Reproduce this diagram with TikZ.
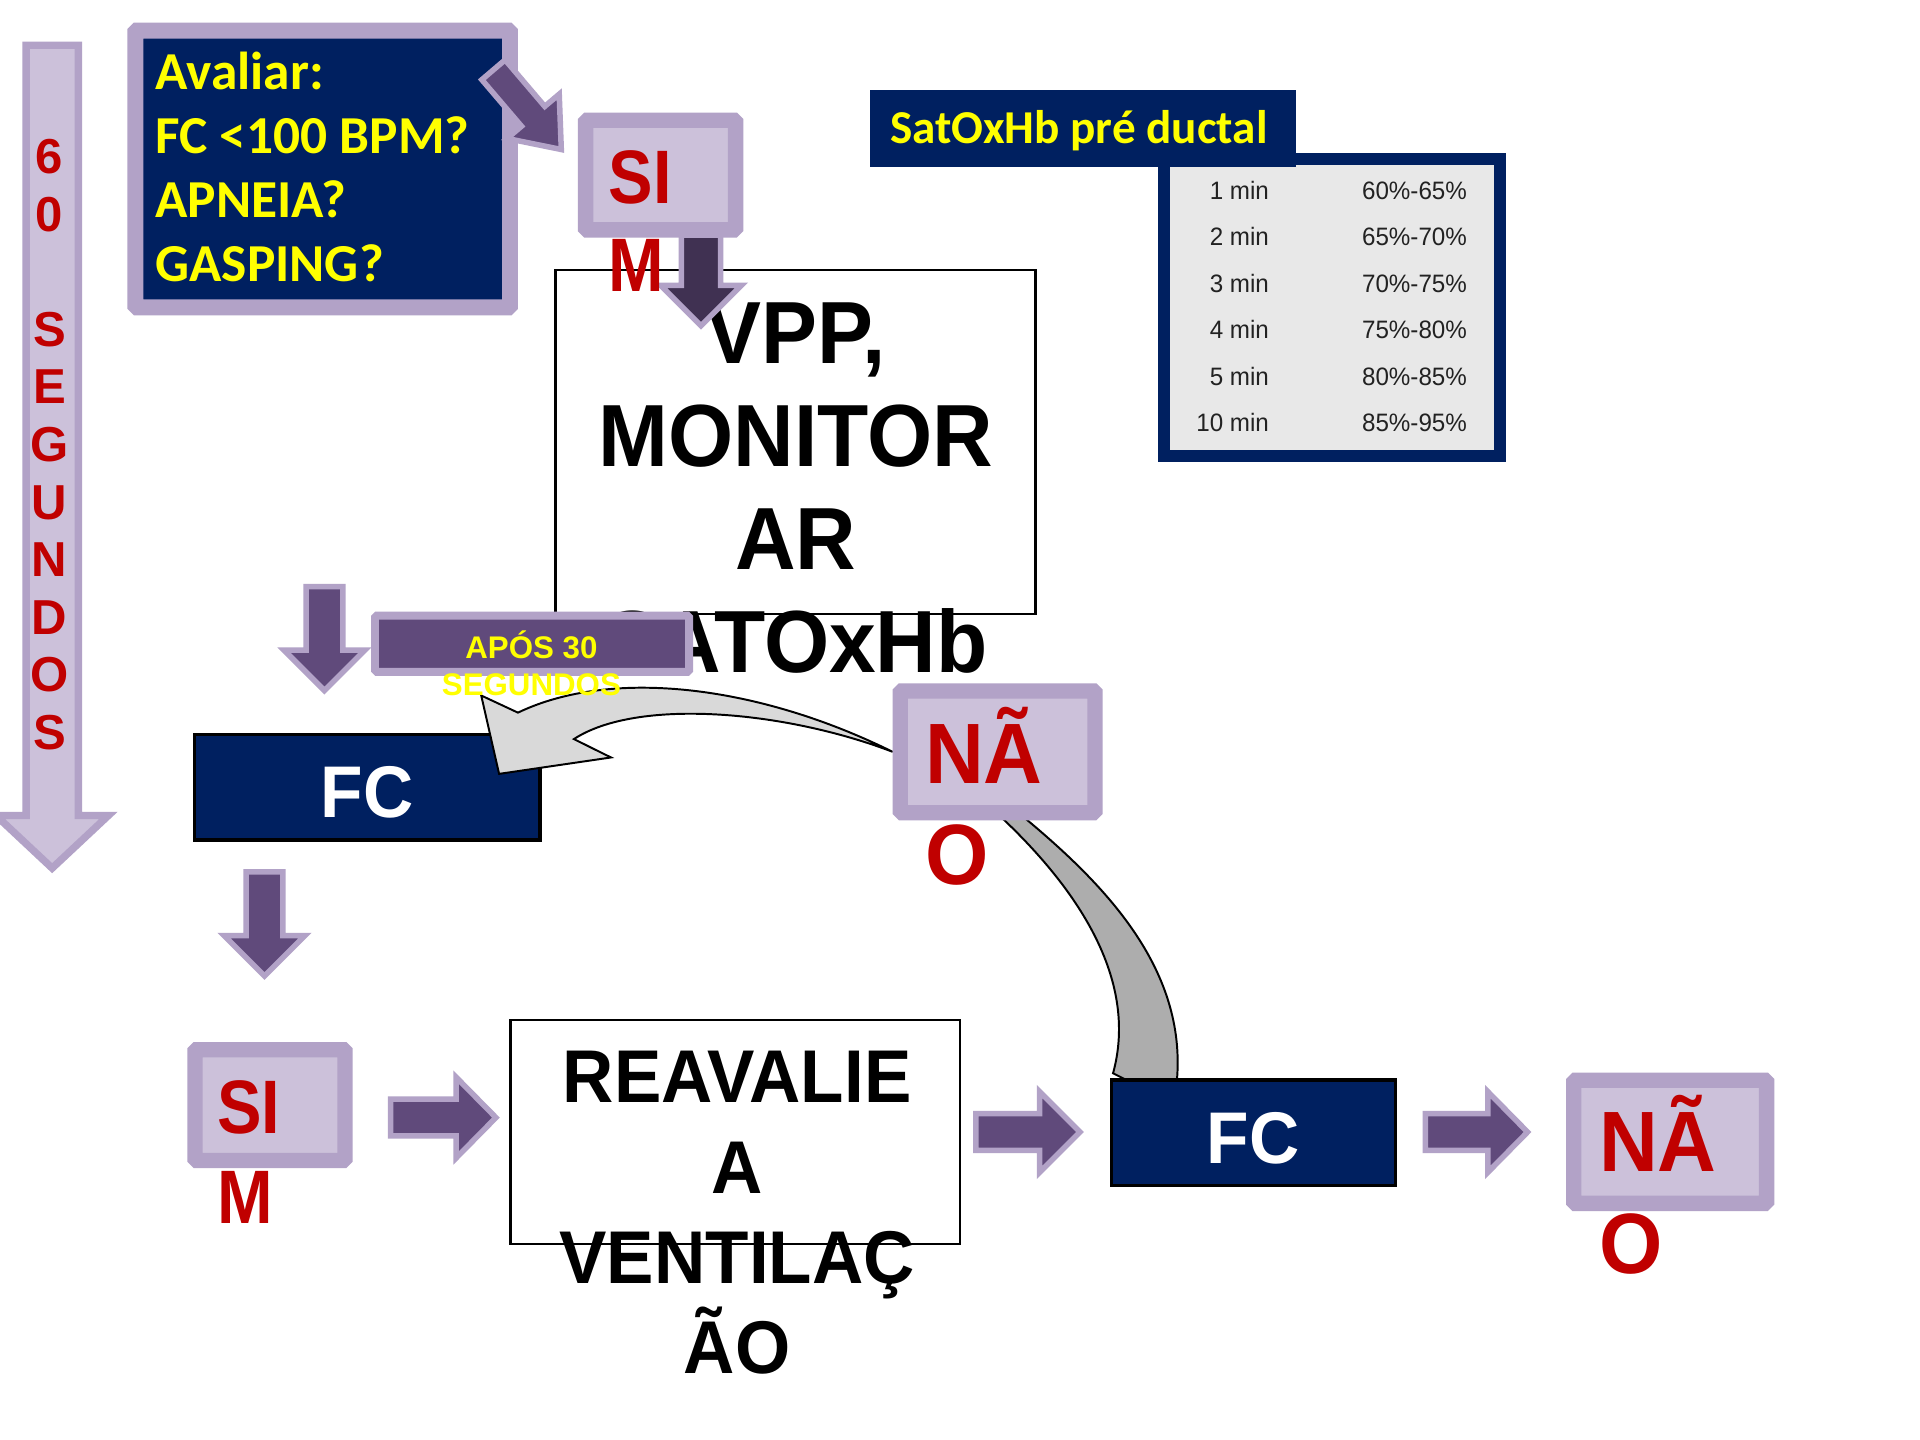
\documentclass[tikz,border=0pt]{standalone}
\usepackage{fontspec}
\setmainfont{Liberation Sans}
\newfontfamily\nbf[FakeStretch=0.95]{Liberation Sans}
\newfontfamily\nbs[FakeStretch=0.88]{Liberation Sans}
\newfontfamily\carl{Carlito}
\newfontfamily\tabf[FakeStretch=0.96]{Liberation Sans}
\newlength\uu \setlength\uu{0.01cm}
\definecolor{cNavy}{HTML}{002060}
\definecolor{cLavD}{HTML}{B2A2C7}
\definecolor{cLavL}{HTML}{CCC1DA}
\definecolor{cPurp}{HTML}{604A7B}
\definecolor{cDPurp}{HTML}{403152}
\definecolor{cRed}{HTML}{C00000}
\definecolor{cYel}{HTML}{FFFF00}
\definecolor{cGL}{HTML}{D9D9D9}
\definecolor{cGD}{HTML}{ADADAD}
\definecolor{cTbg}{HTML}{E8E8E8}
\definecolor{cTxt}{HTML}{222222}
% down block arrow: style, cx, ytop, ybase, ytip, shaft half, head half
\newcommand\myDownArr[7]{%
  \path[#1] (#2-#6,#3) -- (#2+#6,#3) -- (#2+#6,#4) -- (#2+#7,#4) -- (#2,#5)
    -- (#2-#7,#4) -- (#2-#6,#4) -- cycle;}
% right block arrow: style, cy, xleft, xbase, xtip, shaft half, head half
\newcommand\myRightArr[7]{%
  \path[#1] (#3,#2-#6) -- (#4,#2-#6) -- (#4,#2-#7) -- (#5,#2) -- (#4,#2+#7)
    -- (#4,#2+#6) -- (#3,#2+#6) -- cycle;}
\begin{document}
\begin{tikzpicture}[x=1\uu, y=-1\uu,
  lavbox/.style={draw=cLavD, fill=cLavL, line width=12.5\uu, rounded corners=1.5\uu, inner sep=0},
  navbox/.style={draw=black, fill=cNavy, line width=2.5\uu, inner sep=0, text=white,
    text height=14.2pt, text depth=0pt,
    font={\nbf\bfseries\fontsize{17}{20}\selectfont}},
  whitebox/.style={draw=black, fill=white, line width=2\uu, inner sep=0},
  blockarr/.style={fill=cPurp, draw=cLavD, line width=4.5\uu, line join=miter},
  darkarr/.style={fill=cDPurp, draw=cLavD, line width=4.5\uu, line join=miter},
  bigarr/.style={fill=cLavL, draw=cLavD, line width=6\uu, line join=miter},
  txt/.style={inner sep=0, outer sep=0},
  redtxt/.style={txt, text=cRed, align=left, anchor=base west},
  grayarr/.style={draw=black, line width=1.6\uu, line join=miter}
]
\useasboundingbox (0,0) rectangle (1568,1176);
\fill[white] (0,0) rectangle (1568,1176);

% ---- 60 SEGUNDOS big arrow
\path[bigarr] (21.3,37) -- (64,37) -- (64,666) -- (88.5,666) -- (42.6,709)
  -- (-3.3,666) -- (21.3,666) -- cycle;
\node[txt, text=cRed, align=center, anchor=base,
  font={\bfseries\fontsize{11.4}{13.37}\selectfont}] (tSeg) at (40.5,612)
  {6\\0\\[13.37pt]S\\E\\G\\U\\N\\D\\O\\S};

% ---- Avaliar box
\node[draw=cLavD, fill=cNavy, line width=13\uu, rounded corners=1.5\uu,
  minimum width=306\uu, minimum height=226\uu] (aval) at (263.5,138) {};
\node[txt, text=cYel, align=left, anchor=base west,
  font={\carl\bfseries\fontsize{12.4}{14.85}\selectfont}] (tAval) at (127,230)
  {Avaliar:\\FC <100 BPM?\\APNEIA?\\GASPING?};

% diagonal arrow to SIM
\path[blockarr] (393.5,65.1) -- (425.9,103.1) -- (414.1,113.1) -- (458.4,122.1)
  -- (456.7,76.9) -- (444.9,86.9) -- (412.5,48.9) -- cycle;

% ---- VPP box
\node[whitebox, minimum width=392\uu, minimum height=281\uu] (vpp) at (649.5,361) {};
\node[txt, align=center, anchor=base,
  font={\nbf\bfseries\fontsize{20.5}{23.9}\selectfont}] (tVpp) at (650,549)
  {VPP,\\MONITOR\\AR\\SATOxHb};

% dark arrow SIM -> VPP
\myDownArr{darkarr}{572.5}{192}{233}{266}{16}{33}

% ---- SIM top
\node[lavbox, minimum width=122.5\uu, minimum height=89.5\uu] (simA) at (539.5,143) {};
\node[redtxt, font={\nbs\bfseries\fontsize{17.6}{20.5}\selectfont}] (tSimA) at (497,238) {SI\\M};

% ---- SatOxHb table
\node[draw=cNavy, fill=cTbg, line width=9.6\uu, inner sep=0,
  minimum width=274.5\uu, minimum height=242.3\uu] (tab) at (1088,251.1) {};
\node[fill=cNavy, inner sep=0, minimum width=347.5\uu, minimum height=63.2\uu] (sat) at (884.25,105.1) {};
\node[txt, text=cYel, anchor=base west, font={\carl\bfseries\fontsize{10.95}{13}\selectfont}]
  (tSat) at (727,117) {SatOxHb pré ductal};
\foreach \i/\a/\b in {0/1 min/60\%-65\%, 1/2 min/65\%-70\%, 2/3 min/70\%-75\%,
  3/4 min/75\%-80\%, 4/5 min/80\%-85\%, 5/10 min/85\%-95\%}{
  \node[txt, text=cTxt, anchor=base east, font={\tabf\fontsize{5.85}{7}\selectfont}]
    (tl\i) at (1036.3,162.8+38*\i) {\a};
  \node[txt, text=cTxt, anchor=base east, font={\tabf\fontsize{5.85}{7}\selectfont}]
    (tr\i) at (1198,162.8+38*\i) {\b};
}

% ---- arrow above FC left
\myDownArr{blockarr}{265}{479}{531}{564}{15}{33}

% ---- FC left
\node[navbox, minimum width=282\uu, minimum height=86\uu] (fcA) at (300,643) {FC};

% ---- dark gray band NAO -> FC right
\filldraw[grayarr, fill=cGD] (814,664) .. controls (880,725) and (930,800) .. (909,876.5)
  -- (920,882) -- (961,884) .. controls (970,790) and (900,720) .. (832,664) -- cycle;

% ---- light gray curved arrow NAO -> FC left
\filldraw[grayarr, fill=cGL] (729,614) .. controls (620,560) and (500,545) .. (423,582)
  -- (393,568) -- (407.6,632) -- (499,618.6) -- (468.7,603.6)
  .. controls (520,570) and (640,580) .. (729,614) -- cycle;

% ---- APOS 30 SEGUNDOS
\node[draw=cLavD, fill=cPurp, line width=6.5\uu, rounded corners=1.5\uu, inner sep=0,
  minimum width=256.5\uu, minimum height=46\uu] (apos) at (434.5,525.75) {};
\node[txt, text=cYel, align=center, anchor=base,
  font={\bfseries\fontsize{7.26}{8.68}\selectfont}] (tApos) at (434,568.2) {APÓS 30\\SEGUNDOS};

% ---- NAO top
\node[lavbox, minimum width=159\uu, minimum height=99.5\uu] (naoA) at (814.75,614) {};
\node[redtxt, font={\nbf\bfseries\fontsize{19.9}{23.4}\selectfont}] (tNaoA) at (755.5,722) {NÃ\\O};

% ---- arrow below FC left
\myDownArr{blockarr}{216}{712}{764}{797}{15}{33}

% ---- SIM bottom
\node[lavbox, minimum width=122.5\uu, minimum height=90.5\uu] (simB) at (220.5,902.5) {};
\node[redtxt, font={\nbs\bfseries\fontsize{17.6}{20.8}\selectfont}] (tSimB) at (177.6,999) {SI\\M};

\myRightArr{blockarr}{912.7}{319}{372.5}{405}{15}{33}

% ---- REAVALIE
\node[whitebox, minimum width=367\uu, minimum height=183\uu] (reav) at (600.5,924.5) {};
\node[txt, align=center, anchor=base,
  font={\nbf\bfseries\fontsize{17.36}{20.97}\selectfont}] (tReav) at (602,1122)
  {REAVALIE\\A\\VENTILAÇ\\ÃO};

\myRightArr{blockarr}{924.5}{797}{849}{882}{15}{33}

% ---- FC right
\node[navbox, minimum width=232\uu, minimum height=86\uu] (fcB) at (1023.5,925) {FC};

\myRightArr{blockarr}{924.5}{1164}{1215}{1247.5}{15}{33}

% ---- NAO bottom
\node[lavbox, minimum width=157.5\uu, minimum height=100.5\uu] (naoB) at (1364,932.5) {};
\node[redtxt, font={\nbf\bfseries\fontsize{19.9}{23.6}\selectfont}] (tNaoB) at (1306,1040) {NÃ\\O};
\end{tikzpicture}
\end{document}
